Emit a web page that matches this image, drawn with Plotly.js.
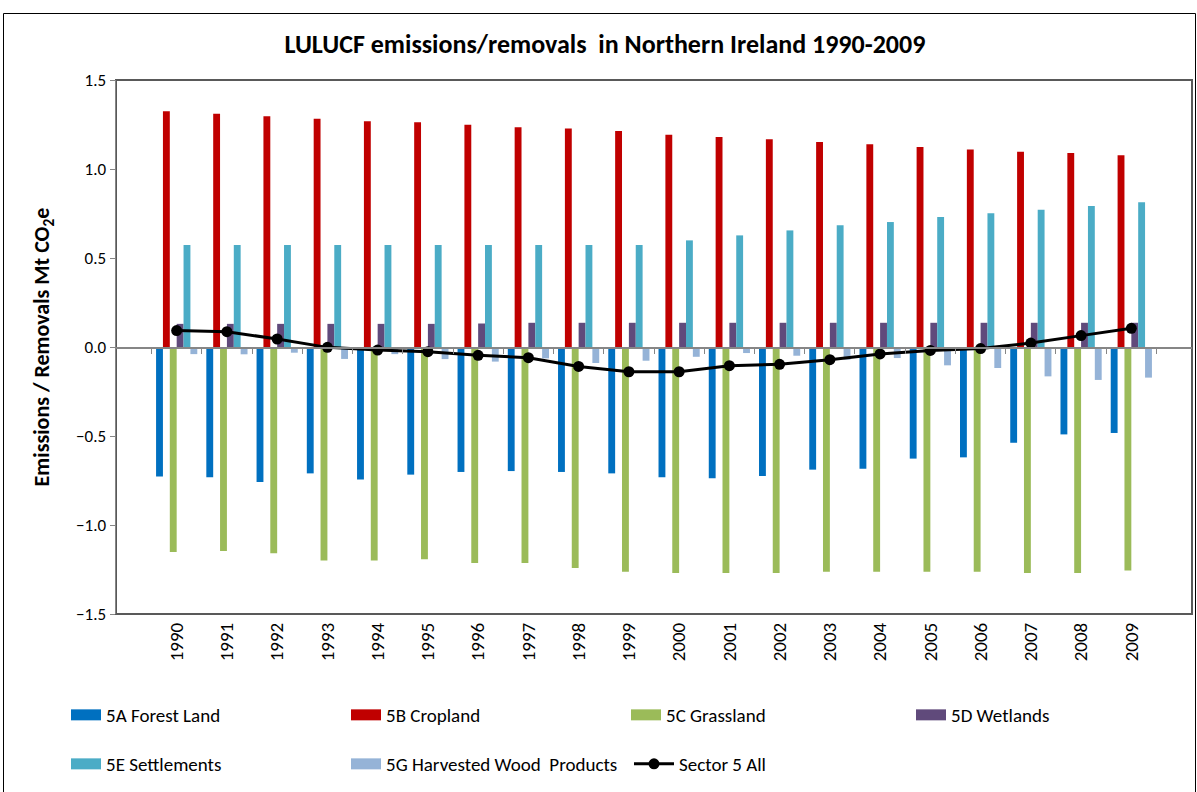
<!DOCTYPE html>
<html><head><meta charset="utf-8">
<script src="https://cdn.plot.ly/plotly-3.0.1.min.js"></script>
<style>html,body{margin:0;padding:0;background:#fff}</style>
</head><body><div id="chart" style="width:1197px;height:792px"></div>
<script>
const years = ['1990','1991','1992','1993','1994','1995','1996','1997','1998','1999','2000','2001','2002','2003','2004','2005','2006','2007','2008','2009'];
const forestLand = [-0.727,-0.732,-0.758,-0.710,-0.745,-0.717,-0.702,-0.697,-0.702,-0.710,-0.732,-0.738,-0.725,-0.689,-0.684,-0.627,-0.620,-0.538,-0.491,-0.483];
const cropland = [1.324,1.311,1.296,1.283,1.268,1.262,1.249,1.234,1.228,1.213,1.193,1.180,1.167,1.152,1.139,1.124,1.110,1.097,1.090,1.077];
const grassland = [-1.152,-1.146,-1.159,-1.200,-1.200,-1.193,-1.213,-1.213,-1.242,-1.262,-1.270,-1.270,-1.270,-1.262,-1.262,-1.262,-1.262,-1.270,-1.270,-1.256];
const wetlands = [0.130,0.130,0.130,0.130,0.130,0.130,0.132,0.136,0.136,0.136,0.136,0.136,0.136,0.136,0.136,0.136,0.136,0.136,0.136,0.136];
const settlements = [0.573,0.573,0.573,0.573,0.573,0.573,0.573,0.573,0.573,0.573,0.599,0.627,0.655,0.684,0.702,0.730,0.751,0.771,0.792,0.813];
const harvestedWood = [-0.040,-0.041,-0.032,-0.067,-0.040,-0.068,-0.082,-0.064,-0.090,-0.077,-0.055,-0.034,-0.049,-0.071,-0.062,-0.103,-0.118,-0.165,-0.185,-0.172];
const sectorAll = [0.092,0.086,0.045,-0.002,-0.017,-0.026,-0.047,-0.060,-0.109,-0.139,-0.139,-0.105,-0.097,-0.071,-0.039,-0.019,-0.009,0.022,0.064,0.105];
const yTicks = [-1.5,-1.0,-0.5,0.0,0.5,1.0,1.5];

const F = "Carlito, 'Liberation Sans', Arial, sans-serif";
const barSeries = [
  {name:'5A Forest Land', y:forestLand, color:'#0070C0', legend:'legend'},
  {name:'5B Cropland', y:cropland, color:'#C00000', legend:'legend'},
  {name:'5C Grassland', y:grassland, color:'#9BBB59', legend:'legend'},
  {name:'5D Wetlands', y:wetlands, color:'#604A7B', legend:'legend3'},
  {name:'5E Settlements', y:settlements, color:'#4BACC6', legend:'legend2'},
  {name:'5G Harvested Wood  Products', y:harvestedWood, color:'#95B3D7', legend:'legend2'}
];
const traces = barSeries.map(s => ({
  type:'bar', x:years, y:s.y, name:s.name, legend:s.legend,
  marker:{color:s.color, line:{width:0}}, hoverinfo:'x+y+name'
}));
traces.push({
  type:'scatter', mode:'lines+markers', x:years, y:sectorAll, name:'Sector 5 All',
  xaxis:'x2', legend:'legend4',
  line:{color:'#000', width:3}, marker:{color:'#000', size:11}
});

const plotW = 1076, plotH = 534, L = 116, T = 80;
const px = v => (v - L) / plotW;
const py = v => (T + plotH - v) / plotH;
const legFont = {family:F, size:19, color:'#000'};
const legBase = {orientation:'h', xanchor:'left', yanchor:'middle', entrywidth:235,
  font:legFont, bgcolor:'rgba(0,0,0,0)', traceorder:'normal'};

const layout = {
  width:1197, height:792,
  margin:{l:116, r:5, t:80, b:178},
  paper_bgcolor:'#fff', plot_bgcolor:'#fff',
  font:{family:F, color:'#000', size:14},
  barmode:'group', bargap:0.18, bargroupgap:0,
  showlegend:true,
  title:{text:'<b>LULUCF emissions/removals  in Northern Ireland 1990-2009</b>',
    font:{family:F, size:26, color:'#000'}, x:0.5054, xanchor:'center', y:1-44/792, yanchor:'middle'},
  xaxis:{type:'category', categoryorder:'array', categoryarray:years,
    tickangle:-90, ticks:'', showline:false, showgrid:false, zeroline:false,
    tickfont:{family:F, size:19, color:'#000'}, ticklabelstandoff:4},
  xaxis2:{type:'category', overlaying:'x', matches:'x', anchor:'free', position:0.5,
    showticklabels:false, ticks:'outside', tickson:'boundaries', ticklen:5, tickcolor:'#868686', tickwidth:1,
    showline:true, linecolor:'#868686', linewidth:1.5, showgrid:false, zeroline:false},
  yaxis:{range:[-1.5,1.5], tickvals:yTicks, tickformat:'.1f', ticks:'outside', ticklen:5,
    tickcolor:'#868686', showline:true, linecolor:'#868686', linewidth:1.5, showgrid:false, zeroline:false,
    tickfont:{family:F, size:17, color:'#000'},
    title:{text:'<b>Emissions / Removals Mt CO<sub>2</sub>e</b>', font:{family:F, size:22, color:'#000'}, standoff:20}},
  legend:Object.assign({}, legBase, {x:px(66), y:py(715)}),
  legend3:Object.assign({}, legBase, {x:px(911), y:py(715)}),
  legend2:Object.assign({}, legBase, {x:px(66), y:py(764)}),
  legend4:Object.assign({}, legBase, {x:px(629), y:py(764), itemwidth:40}),
  shapes:[
    {type:'rect', xref:'paper', yref:'paper', x0:0, x1:1, y0:0, y1:1, line:{color:'#595959', width:2}, layer:'below'},
    {type:'rect', xref:'paper', yref:'paper', x0:px(3.5), x1:px(1195.5), y0:py(13.5), y1:py(800), line:{color:'#000', width:1}, layer:'below'}
  ]
};

Plotly.newPlot('chart', traces, layout, {displayModeBar:false, staticPlot:true}).then(gd => {
  gd.querySelectorAll('.legendpoints path').forEach(p => {
    const d = p.getAttribute('d') || '';
    if (d.indexOf('M6,6H-6V-6H6Z') === 0) p.setAttribute('d', 'M15,5.5H-15V-5.5H15Z');
  });
});
</script></body></html>
